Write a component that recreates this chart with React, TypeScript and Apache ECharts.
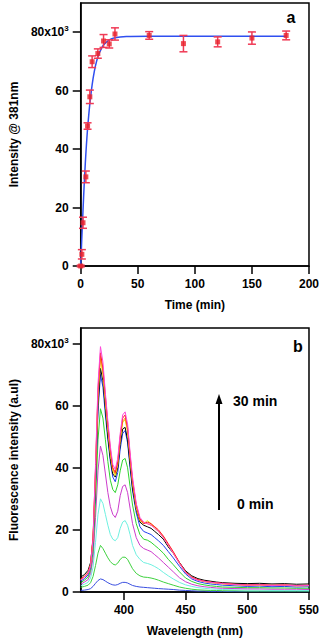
import React, { useEffect, useRef } from "react";
import * as echarts from "echarts";

// ---- Panel a: intensity @ 381 nm vs time ----
const timeMin = [0, 1, 2, 4.5, 6, 8, 10, 15, 20, 25, 30, 60, 90, 120, 150, 180];
const intensity = [0, 4, 14.8, 30.5, 47.9, 57.9, 69.9, 72.7, 77, 76, 79.4, 78.9, 76.1, 76.7, 78, 78.9];
const errBar = [0.3, 1.6, 1.9, 2, 1.1, 2.3, 2, 1.6, 2.2, 1.4, 2.1, 1.3, 2.8, 1.7, 2.1, 1.5];

const fitTime = [0, 1, 2, 3, 4, 5, 6, 7, 8, 10, 12, 14, 16, 18, 20, 25, 30, 40, 60, 90, 120, 150, 180];
const fitValue = [0, 10, 19, 27.5, 35, 41.5, 47, 51.5, 55.5, 62, 66.8, 70.2, 72.6, 74.3, 75.6, 77.4, 78.1, 78.5, 78.6, 78.6, 78.6, 78.6, 78.6];

const topYTicks = [0, 20, 40, 60, 80];
const topXTicks = [0, 50, 100, 150, 200];

// ---- Panel b: fluorescence spectra ----
const wavelength = [365, 368, 371, 373, 375, 377, 379, 381, 383, 385, 387, 389, 391, 393, 395, 397, 399, 401, 403, 405, 407, 410, 413, 416, 419, 422, 425, 428, 432, 436, 440, 445, 450, 455, 460, 465, 470, 475, 480, 490, 500, 510, 520, 530, 540, 550];

const specBlue0 = [0.5, 0.6, 0.8, 1.1, 1.8, 2.8, 3.7, 4.2, 4, 3.5, 3, 2.6, 2.3, 2.2, 2.4, 2.8, 3.1, 3.1, 2.9, 2.5, 2.1, 1.8, 1.6, 1.5, 1.4, 1.3, 1.2, 1.1, 1.0, 0.9, 0.8, 0.6, 0.5, 0.4, 0.3, 0.3, 0.2, 0.2, 0.2, 0.1, 0.1, 0.1, 0.1, 0.1, 0.1, 0.1];
const specGreen1 = [1.5, 1.8, 2.2, 3, 5, 8.5, 12.5, 15, 14, 12.5, 11, 9.8, 9, 8.7, 9.3, 10.5, 11.2, 11.2, 10.5, 9, 7.5, 6, 5.2, 4.8, 4.7, 4.5, 4.2, 3.8, 3.2, 2.7, 2.2, 1.6, 1.2, 0.9, 0.7, 0.6, 0.5, 0.5, 0.4, 0.4, 0.3, 0.3, 0.3, 0.3, 0.3, 0.3];
const specCyan = [2, 2.5, 3.1, 4.5, 8, 16, 25, 30, 28.5, 25, 21.5, 18.5, 17, 16.5, 17.5, 20.5, 22.5, 23, 21.5, 18.5, 15, 12, 10.5, 9.5, 9.2, 8.8, 8.2, 7.5, 6.3, 5.2, 4.2, 3.1, 2.3, 1.8, 1.4, 1.2, 1.0, 0.9, 0.8, 0.7, 0.6, 0.6, 0.5, 0.5, 0.5, 0.5];
const specMagenta = [2.5, 3.2, 4, 6, 11, 24, 39, 47, 44, 38, 32, 27.5, 25, 24, 26, 31, 34, 34.5, 32, 27, 22, 17.5, 15, 14, 13.5, 13, 12, 11, 9.5, 8, 6.5, 4.6, 3.3, 2.5, 2, 1.7, 1.5, 1.3, 1.2, 1.1, 1.0, 1.0, 0.9, 0.9, 0.9, 0.8];
const specGreen2 = [3, 3.8, 4.8, 7, 13, 29, 49, 59, 56, 49, 42, 36, 33, 32, 34.5, 39, 42.5, 43, 40, 34, 28, 22, 18.5, 17, 16.7, 16, 15, 14, 12.5, 10.5, 8.8, 6.5, 4.5, 3.4, 2.7, 2.3, 2.0, 1.8, 1.6, 1.5, 1.4, 1.4, 1.3, 1.3, 1.2, 1.2];
const specBlue = [3.5, 4.3, 5.5, 8, 15.5, 35, 58, 70, 66, 57, 49, 42, 37, 35.5, 38.5, 46, 51, 52, 48, 40, 32.5, 25.5, 21, 19.5, 19, 18.5, 17.5, 16.5, 15, 13, 11, 8.3, 5.8, 4.2, 3.4, 2.9, 2.6, 2.4, 2.2, 2.0, 1.8, 1.9, 1.7, 1.8, 1.6, 1.7];
const specBlack = [4.8, 5.6, 7, 9.5, 17, 36, 60, 72, 68, 59, 50, 43, 38, 37, 40, 47.5, 52.5, 53, 49, 41, 33.5, 26.5, 22.5, 21.5, 21, 20.5, 19.5, 18.5, 17, 14.5, 12.5, 9.5, 6.8, 5.2, 4.3, 3.8, 3.5, 3.2, 3.0, 2.8, 2.7, 2.8, 2.6, 2.7, 2.5, 2.6];
const specYellow = [4.1, 5, 6.2, 8.7, 17, 38, 63, 75, 70, 61, 52, 44.5, 39, 37.5, 41, 49, 54.5, 55.5, 51.5, 43, 35, 27, 23, 22, 23, 22, 20.5, 19.5, 17.5, 15, 12.5, 9.2, 6.3, 4.7, 3.8, 3.3, 3.0, 2.8, 2.6, 2.3, 2.2, 2.2, 2.1, 2.1, 2.0, 2.0];
const specOrange = [4, 4.9, 6.1, 8.8, 17.5, 39, 64, 76, 71, 62, 53, 45, 39.5, 38, 41.5, 49.5, 55, 56, 52, 43.5, 35.5, 27.5, 23, 22.5, 22, 21.5, 21, 19.5, 17.8, 15.2, 12.8, 9.3, 6.4, 4.7, 3.9, 3.4, 3.1, 2.9, 2.7, 2.4, 2.2, 2.3, 2.1, 2.2, 2.0, 2.1];
const specRed = [4.2, 5.0, 6.3, 9, 18, 40, 65, 77, 72, 63, 54, 46, 40, 38.5, 42, 50, 56, 57, 53, 44, 36, 28, 23.5, 22, 22.5, 22, 21, 20, 18, 15.5, 13, 9.5, 6.5, 4.8, 4, 3.5, 3.2, 3, 2.8, 2.5, 2.3, 2.4, 2.2, 2.3, 2.1, 2.2];
const specPink = [3.8, 4.8, 6, 8.5, 17, 41, 67, 79, 74, 64, 55, 47, 41, 39.5, 43, 51, 57, 58, 54, 45, 37, 28.5, 24, 22.5, 22, 21.5, 20.5, 19.5, 17.5, 15, 12.5, 9.2, 6.3, 4.6, 3.8, 3.4, 3.1, 2.9, 2.7, 2.4, 2.2, 2.3, 2.1, 2.2, 2.0, 2.1];

const spectra = [
  { values: specBlue0, color: "#3a4fe0" },
  { values: specGreen1, color: "#3fd13f" },
  { values: specCyan, color: "#6ef0e0" },
  { values: specMagenta, color: "#cc3ccc" },
  { values: specGreen2, color: "#2ed42e" },
  { values: specBlue, color: "#2040f0" },
  { values: specBlack, color: "#000000" },
  { values: specYellow, color: "#e8e820" },
  { values: specOrange, color: "#ff9a1a" },
  { values: specRed, color: "#ff1e1e" },
  { values: specPink, color: "#ff48d8" },
];

const botYTicks = [0, 20, 40, 60, 80];
const botXTicks = [400, 450, 500, 550];

const FONT = "'Liberation Sans', Arial, sans-serif";

export default function App() {
  const ref = useRef<HTMLDivElement>(null);
  useEffect(() => {
    if (!ref.current) return;
    const chart = echarts.init(ref.current, null, { renderer: "svg" });
    const labelStyle = { color: "#000", fontFamily: FONT, fontWeight: "bold" as const, fontSize: 12 };
    const yFmt = (v: number) => (v === 80 ? "80x10{sup|3}" : String(v));
    const rich = { sup: { fontSize: 8, fontWeight: "bold", fontFamily: FONT, color: "#000", verticalAlign: "top", padding: [0, 0, 7, 0] } };
    const axisLine = { show: true, lineStyle: { color: "#000", width: 1.5 } };
    const axisTick = { show: true, inside: false, length: 8, lineStyle: { color: "#000", width: 1.5 } };

    const errData = timeMin.map((t, i) => [t, intensity[i] - errBar[i], intensity[i] + errBar[i]]);

    chart.setOption({
      animation: false,
      backgroundColor: "#fff",
      grid: [
        { left: 51, top: 3, width: 258, height: 263, show: true, borderColor: "#000", borderWidth: 1.5, containLabel: false },
        { left: 52, top: 328, width: 258, height: 264, show: true, borderColor: "#000", borderWidth: 1.5, containLabel: false },
      ],
      xAxis: [
        {
          type: "value", gridIndex: 0, min: 0, max: 200, interval: 50,
          splitLine: { show: false }, axisLine, axisTick: { ...axisTick, customValues: topXTicks },
          axisLabel: { ...labelStyle, margin: 12, customValues: topXTicks },
          name: "Time (min)", nameLocation: "middle", nameGap: 33,
          nameTextStyle: { ...labelStyle },
        },
        {
          type: "value", gridIndex: 1, min: 365, max: 550,
          splitLine: { show: false }, axisLine, axisTick: { ...axisTick, customValues: botXTicks },
          axisLabel: { ...labelStyle, margin: 12, customValues: botXTicks },
          name: "Wavelength (nm)", nameLocation: "middle", nameGap: 33,
          nameTextStyle: { ...labelStyle },
        },
      ],
      yAxis: [
        {
          type: "value", gridIndex: 0, min: 0, max: 90,
          splitLine: { show: false }, axisLine, axisTick: { ...axisTick, customValues: topYTicks },
          axisLabel: { ...labelStyle, margin: 12, customValues: topYTicks, formatter: yFmt, rich },
          name: "Intensity @ 381nm", nameLocation: "middle", nameGap: 37, nameRotate: 90,
          nameTextStyle: { ...labelStyle },
        },
        {
          type: "value", gridIndex: 1, min: 0, max: 85,
          splitLine: { show: false }, axisLine, axisTick: { ...axisTick, customValues: botYTicks },
          axisLabel: { ...labelStyle, margin: 12, customValues: botYTicks, formatter: yFmt, rich },
          name: "Fluorescence intensity (a.ul)", nameLocation: "middle", nameGap: 36, nameRotate: 90,
          nameTextStyle: { ...labelStyle },
        },
      ],
      series: [
        {
          type: "line", xAxisIndex: 0, yAxisIndex: 0, smooth: 0.3, showSymbol: false,
          data: fitTime.map((t, i) => [t, fitValue[i]]),
          lineStyle: { color: "#2f4ff0", width: 1.5 }, z: 2,
        },
        {
          type: "custom", xAxisIndex: 0, yAxisIndex: 0, data: errData, z: 3,
          renderItem: (params: any, api: any) => {
            const x = api.value(0);
            const lo = api.coord([x, api.value(1)]);
            const hi = api.coord([x, api.value(2)]);
            const w = 4;
            const style = { stroke: "#f03a55", lineWidth: 1.5 };
            return {
              type: "group",
              children: [
                { type: "line", shape: { x1: lo[0], y1: lo[1], x2: hi[0], y2: hi[1] }, style },
                { type: "line", shape: { x1: lo[0] - w, y1: lo[1], x2: lo[0] + w, y2: lo[1] }, style },
                { type: "line", shape: { x1: hi[0] - w, y1: hi[1], x2: hi[0] + w, y2: hi[1] }, style },
              ],
            };
          },
        },
        {
          type: "scatter", xAxisIndex: 0, yAxisIndex: 0, symbol: "rect", symbolSize: 5,
          data: timeMin.map((t, i) => [t, intensity[i]]),
          itemStyle: { color: "#e8202a" }, z: 4,
        },
        ...spectra.map((s) => ({
          type: "line", xAxisIndex: 1, yAxisIndex: 1, showSymbol: false,
          data: wavelength.map((w, i) => [w, s.values[i]]),
          lineStyle: { color: s.color, width: 1 },
        })),
      ],
      graphic: [
        { type: "text", x: 291, y: 17, style: { text: "a", font: `bold 16px ${FONT}`, fill: "#000", align: "center", verticalAlign: "middle" } },
        { type: "text", x: 298, y: 346, style: { text: "b", font: `bold 16px ${FONT}`, fill: "#000", align: "center", verticalAlign: "middle" } },
        { type: "line", shape: { x1: 219, y1: 510, x2: 219, y2: 402 }, style: { stroke: "#000", lineWidth: 2 } },
        { type: "polygon", shape: { points: [[219, 394], [215.5, 404], [222.5, 404]] }, style: { fill: "#000" } },
        { type: "text", x: 233, y: 401, style: { text: "30 min", font: `bold 14px ${FONT}`, fill: "#000", align: "left", verticalAlign: "middle" } },
        { type: "text", x: 237, y: 504, style: { text: "0 min", font: `bold 14px ${FONT}`, fill: "#000", align: "left", verticalAlign: "middle" } },
      ],
    });
    return () => chart.dispose();
  }, []);
  return <div ref={ref} style={{ position: "fixed", left: 0, top: 0, width: 322, height: 640 }} />;
}
